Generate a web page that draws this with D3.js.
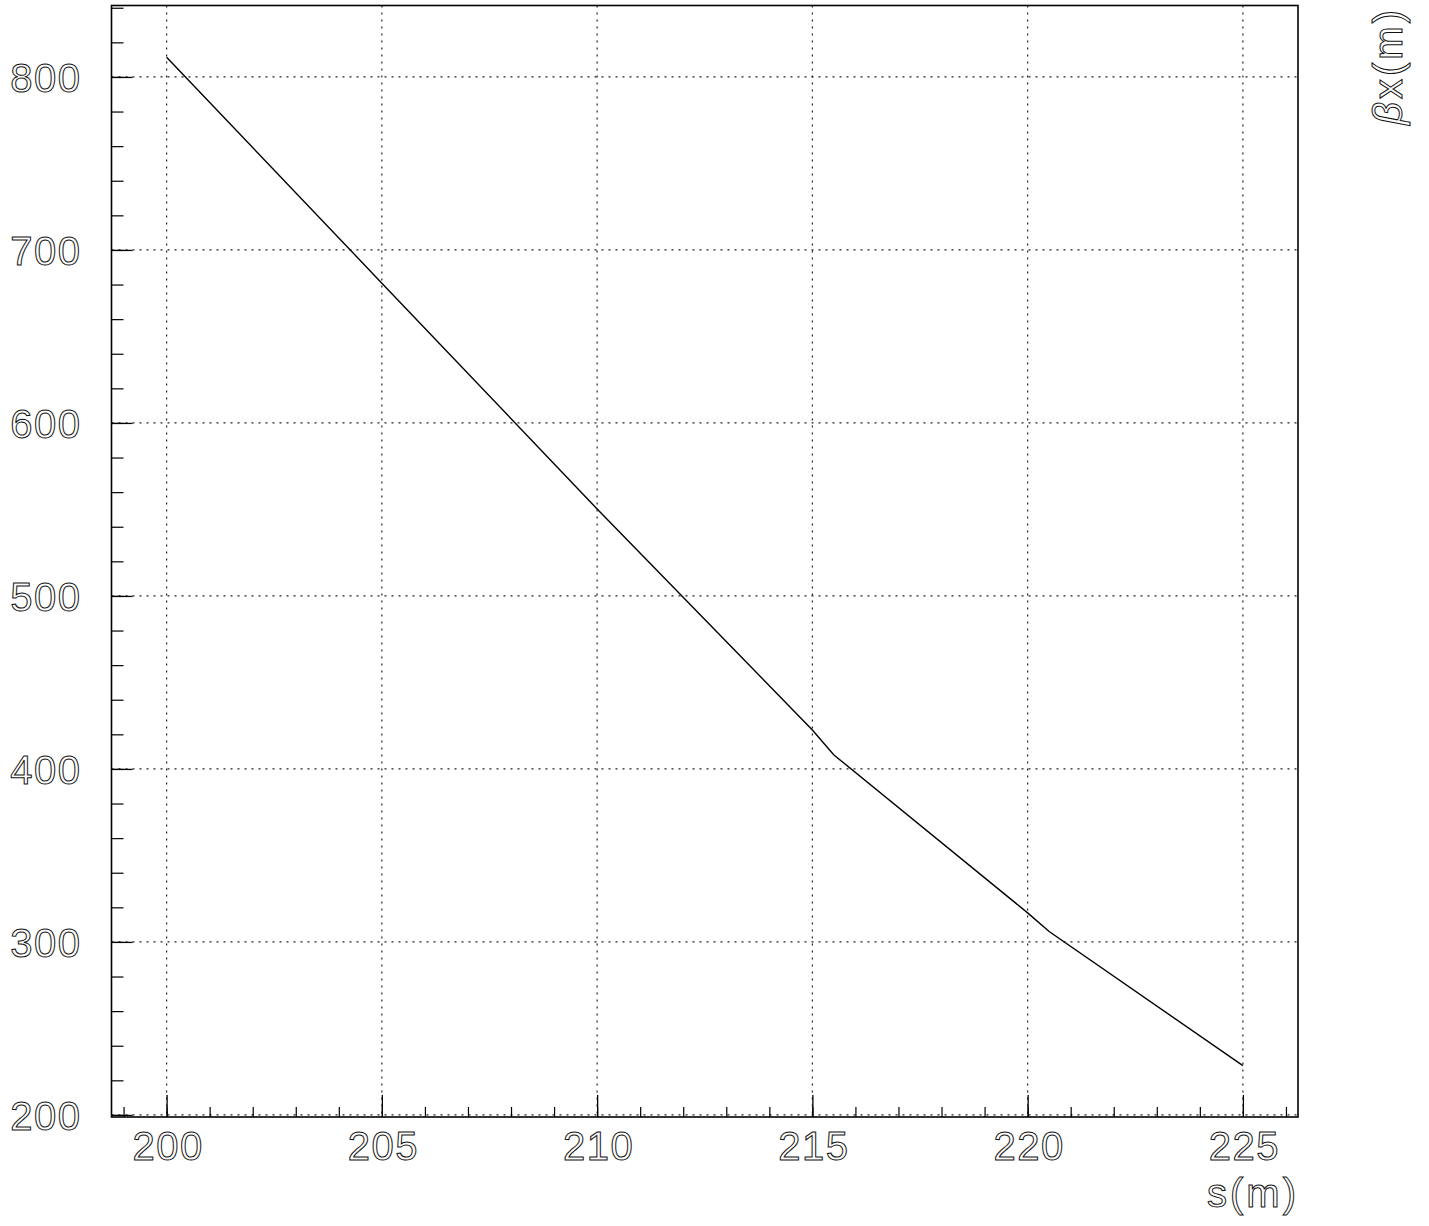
<!DOCTYPE html>
<html>
<head>
<meta charset="utf-8">
<script src="https://cdn.jsdelivr.net/npm/d3@7"></script>
<style>
  body { margin: 0; background: #fff; }
  .lbl { font-family: "Liberation Sans", Arial, sans-serif; font-size: 40px; fill: #fff; stroke: #111; stroke-width: 1px; letter-spacing: 1.5px; }
  .ttl { letter-spacing: 3px; }
  .grid line { stroke: #222; stroke-dasharray: 2,5; stroke-width: 1.2; }
</style>
</head>
<body>
<script>
// beta_x along s
const s_pos = [200, 205, 210, 215, 215.5, 220, 220.5, 225];
const beta_x = [811.4, 680.8, 550.3, 422.5, 408.1, 316.8, 306.0, 228.5];

const x_ticks = [200, 205, 210, 215, 220, 225];
const y_ticks = [200, 300, 400, 500, 600, 700, 800];
const x_title = 's(m)';

const width = 1429, height = 1226;
const frame = {left: 111.5, right: 1298, top: 5.5, bottom: 1117};

const svg = d3.select('body').append('svg')
  .attr('width', width)
  .attr('height', height);

const x = d3.scaleLinear()
  .domain([198.72, 226.28])
  .range([frame.left, frame.right]);

const y = d3.scaleLinear()
  .domain([198.8, 841.3])
  .range([frame.bottom, frame.top]);

// grid at the major ticks
const grid = svg.append('g').attr('class', 'grid');
grid.selectAll('line.v')
  .data(x_ticks)
  .enter().append('line')
  .attr('class', 'v')
  .attr('x1', d => x(d)).attr('x2', d => x(d))
  .attr('y1', frame.top).attr('y2', frame.bottom);
grid.selectAll('line.h')
  .data(y_ticks)
  .enter().append('line')
  .attr('class', 'h')
  .attr('x1', frame.left).attr('x2', frame.right)
  .attr('y1', d => y(d)).attr('y2', d => y(d));

// minor ticks (no labels)
const x_minor = d3.range(199, 227, 1);
const y_minor = d3.range(200, 841, 20);

svg.append('g')
  .attr('transform', `translate(0,${frame.bottom})`)
  .call(d3.axisBottom(x).tickValues(x_minor).tickSize(-10).tickFormat(''))
  .call(g => g.select('.domain').remove())
  .call(g => g.selectAll('line').attr('stroke', '#000').attr('stroke-width', 1.2));

svg.append('g')
  .attr('transform', `translate(${frame.left},0)`)
  .call(d3.axisLeft(y).tickValues(y_minor).tickSize(-12).tickFormat(''))
  .call(g => g.select('.domain').remove())
  .call(g => g.selectAll('line').attr('stroke', '#000').attr('stroke-width', 1.2));

// major ticks with labels
svg.append('g')
  .attr('transform', `translate(0,${frame.bottom})`)
  .call(d3.axisBottom(x).tickValues(x_ticks).tickSize(-22).tickPadding(15).tickFormat(d3.format('d')))
  .call(g => g.select('.domain').remove())
  .call(g => g.selectAll('line').attr('stroke', '#000').attr('stroke-width', 1.3))
  .call(g => g.selectAll('text').attr('class', 'lbl').attr('dx', '1px'));

svg.append('g')
  .attr('transform', `translate(${frame.left},0)`)
  .call(d3.axisLeft(y).tickValues(y_ticks).tickSize(-21).tickPadding(30).tickFormat(d3.format('d')))
  .call(g => g.select('.domain').remove())
  .call(g => g.selectAll('line').attr('stroke', '#000').attr('stroke-width', 1.3))
  .call(g => g.selectAll('text').attr('class', 'lbl').attr('dy', '0.36em'));

svg.selectAll('.tick text').attr('fill', null);
svg.selectAll('g[font-family]').attr('font-family', null).attr('font-size', null);

// frame
svg.append('rect')
  .attr('x', frame.left).attr('y', frame.top)
  .attr('width', frame.right - frame.left)
  .attr('height', frame.bottom - frame.top)
  .attr('fill', 'none')
  .attr('stroke', '#000')
  .attr('stroke-width', 1.6);

// the curve
const line = d3.line()
  .x((d, i) => x(s_pos[i]))
  .y(d => y(d));

svg.append('path')
  .datum(beta_x)
  .attr('d', line)
  .attr('fill', 'none')
  .attr('stroke', '#000')
  .attr('stroke-width', 1.4);

// axis titles
svg.append('text')
  .attr('class', 'lbl ttl')
  .attr('x', 1299).attr('y', 1207)
  .attr('text-anchor', 'end')
  .text(x_title);

const yt = svg.append('text')
  .attr('class', 'lbl ttl')
  .attr('transform', 'translate(1402,7) rotate(-90)')
  .attr('text-anchor', 'end');
yt.append('tspan').attr('font-style', 'italic').text('β');
yt.append('tspan').text('x(m)');
</script>
</body>
</html>
